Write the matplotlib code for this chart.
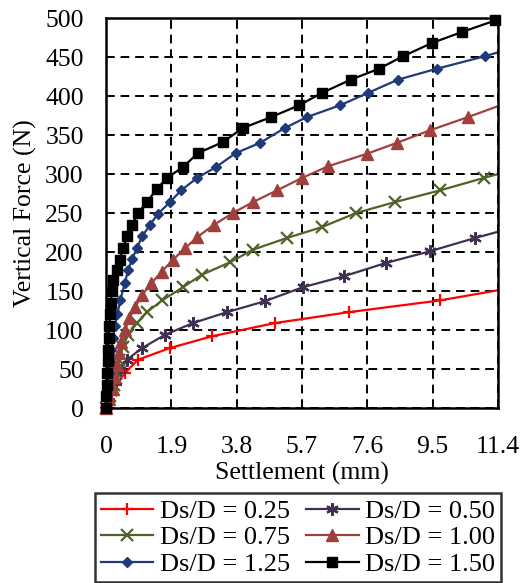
import matplotlib
matplotlib.use("Agg")
import matplotlib.pyplot as plt

plt.rcParams['font.family'] = ['Liberation Serif', 'DejaVu Serif']

# Settlement (mm) and vertical force (N) for each Ds/D ratio
s_025 = [0, 0.10, 0.30, 0.55, 0.93, 1.86, 3.08, 4.91, 7.07, 9.71, 11.4]
f_025 = [0, 12, 30, 45, 62, 77, 92, 109, 123, 138, 151]

s_050 = [0, 0.15, 0.28, 0.41, 0.61, 1.05, 1.72, 2.53, 3.52, 4.62, 5.73, 6.92, 8.14, 9.42, 10.73, 11.4]
f_050 = [0, 20, 35, 49, 62, 77, 94, 109, 123, 137, 155, 169, 186, 201, 218, 226]

s_075 = [0, 0.12, 0.22, 0.30, 0.38, 0.49, 0.64, 0.90, 1.19, 1.63, 2.24, 2.79, 3.61, 4.27, 5.26,
         6.28, 7.27, 8.40, 9.71, 10.99, 11.4]
f_075 = [0, 15, 30, 46, 62, 78, 94, 109, 123, 138, 155, 171, 187, 203, 218,
         232, 250, 264, 279, 295, 300]

s_100 = [0, 0.10, 0.20, 0.27, 0.32, 0.38, 0.45, 0.55, 0.68, 0.85, 1.05, 1.32, 1.62, 1.95, 2.30,
         2.65, 3.14, 3.69, 4.27, 4.97, 5.70, 6.46, 7.59, 8.46, 9.42, 10.53, 11.4]
f_100 = [0, 12, 25, 40, 55, 70, 85, 100, 115, 130, 145, 160, 175, 190, 205,
         219, 235, 250, 264, 279, 295, 310, 326, 340, 356, 373, 387]

s_125 = [0, 0.02, 0.05, 0.08, 0.11, 0.15, 0.20, 0.26, 0.33, 0.41, 0.55, 0.64, 0.76, 0.90, 1.05,
         1.28, 1.51, 1.86, 2.18, 2.65, 3.20, 3.78, 4.48, 5.20, 5.84, 6.80, 7.62, 8.49, 9.62,
         11.02, 11.4]
f_125 = [0, 15, 30, 45, 60, 75, 90, 105, 120, 138, 160, 177, 191, 205, 220,
         235, 249, 264, 279, 295, 309, 327, 340, 359, 373, 388, 404, 421, 435,
         451, 456]

s_150 = [0, 0.01, 0.03, 0.04, 0.05, 0.07, 0.08, 0.10, 0.12, 0.14, 0.17, 0.20, 0.32, 0.41, 0.49,
         0.61, 0.76, 0.93, 1.19, 1.48, 1.77, 2.24, 2.68, 3.40, 3.98, 4.80, 5.61, 6.28, 7.12,
         7.94, 8.64, 9.48, 10.35, 11.33]
f_150 = [0, 15, 30, 45, 60, 75, 90, 105, 120, 135, 150, 164, 177, 190, 205,
         220, 235, 250, 264, 281, 295, 309, 327, 341, 359, 373, 388, 404, 421,
         435, 451, 468, 482, 497]

x_ticks = [0, 1.9, 3.8, 5.7, 7.6, 9.5, 11.4]
y_ticks = [0, 50, 100, 150, 200, 250, 300, 350, 400, 450, 500]

series = [
    ("Ds/D = 0.25", s_025, f_025, "#FF0000", "+", 9, 1.6),
    ("Ds/D = 0.50", s_050, f_050, "#403152", (6, 2, 0), 9, 1.6),
    ("Ds/D = 0.75", s_075, f_075, "#4F6228", "x", 8, 1.6),
    ("Ds/D = 1.00", s_100, f_100, "#A0403C", "^", 8, 1.0),
    ("Ds/D = 1.25", s_125, f_125, "#1F3A78", "D", 5.5, 1.0),
    ("Ds/D = 1.50", s_150, f_150, "#000000", "s", 7.5, 1.0),
]

fig = plt.figure(figsize=(5.24, 5.83), dpi=100)
ax = fig.add_axes([0.2023, 0.300, 0.7477, 0.669])

handles = {}
for label, s, f, color, marker, ms, mew in series:
    ends_at_edge = s[-1] >= 11.4
    mk = slice(0, len(s) - 1) if ends_at_edge else None
    h, = ax.plot(s, f, color=color, lw=1.6, marker=marker, ms=ms, mew=mew,
                 mec=color, mfc=color, markevery=mk, label=label, clip_on=False, zorder=3)
    handles[label] = h

ax.set_xlim(0, 11.4)
ax.set_ylim(0, 500)
ax.set_xticks(x_ticks)
ax.set_xticklabels(["0", "1.9", "3.8", "5.7", "7.6", "9.5", "11.4"])
ax.set_yticks(y_ticks)
ax.tick_params(axis="both", length=0, labelsize=18.5, colors="black")
ax.tick_params(axis="x", pad=20)
ax.tick_params(axis="y", pad=16)
ax.grid(True, color="black", ls=(0, (4.5, 3)), lw=1.4)
for sp in ax.spines.values():
    sp.set_linewidth(1.8)
    sp.set_color("black")
    sp.set_zorder(4)

ax.set_xlabel("Settlement (mm)", fontsize=18.5, labelpad=3)
ax.set_ylabel("Vertical Force (N)", fontsize=18.5, labelpad=6)

order = ["Ds/D = 0.25", "Ds/D = 0.75", "Ds/D = 1.25",
         "Ds/D = 0.50", "Ds/D = 1.00", "Ds/D = 1.50"]
leg = fig.legend([handles[k] for k in order], order, ncol=2,
                 loc="lower left", bbox_to_anchor=(0.181, 0.002, 0.775, 0.154),
                 mode="expand", fontsize=19, frameon=True, fancybox=False,
                 edgecolor="black", handlelength=2.0, handletextpad=0.25,
                 columnspacing=0.5, labelspacing=0.12, borderpad=0.22,
                 borderaxespad=0)
leg.get_frame().set_linewidth(1.8)

fig.savefig("out.png", dpi=100)
